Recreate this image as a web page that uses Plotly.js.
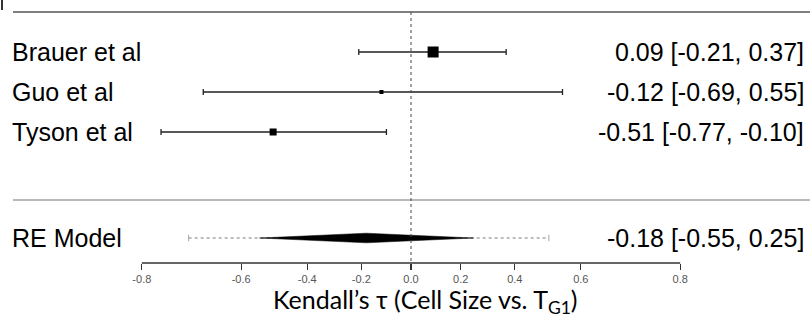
<!DOCTYPE html>
<html>
<head>
<meta charset="utf-8">
<script src="https://cdn.plot.ly/plotly-3.0.1.min.js"></script>
<style>html,body{margin:0;padding:0;background:#fff;}#chart{width:810px;height:321px;}</style>
</head>
<body>
<div id="chart"></div>
<script>
// ---- data (Kendall's tau, Fisher-z display scale) ----
const studies = ["Brauer et al", "Guo et al", "Tyson et al"];
const estimates = [0.09, -0.12, -0.51];
const ciLower = [-0.21, -0.69, -0.77];
const ciUpper = [0.37, 0.55, -0.10];
const weightsMarker = [11, 4, 7];           // marker size shown in picture
const reLabel = "RE Model";
const reEstimate = [-0.18];
const reCI = [-0.55, 0.25];
const rePI = [-0.72, 0.51];
const tickLabels = ["-0.8", "-0.6", "-0.4", "-0.2", "0.0", "0.2", "0.4", "0.6", "0.8"];
const tickValues = [-0.8, -0.6, -0.4, -0.2, 0.0, 0.2, 0.4, 0.6, 0.8];

const z = v => Math.atanh(v);
const fmt = v => v.toFixed(2);

const RE_ROW = 4.65;
const PLOT_H = 263;
const Y_BOTTOM = (PLOT_H - 52) / 40;
const traces = [];

// prediction interval (dotted)
traces.push({
  type: 'scatter', mode: 'lines',
  x: rePI.map(z), y: [RE_ROW, RE_ROW],
  line: {color: '#a8a8a8', width: 1.3, dash: 'dot'},
  hoverinfo: 'skip', showlegend: false
});
rePI.forEach(p => traces.push({
  type: 'scatter', mode: 'lines',
  x: [z(p), z(p)], y: [RE_ROW - 0.08, RE_ROW + 0.08],
  line: {color: '#a8a8a8', width: 1}, hoverinfo: 'skip', showlegend: false
}));

// diamond
const h = 0.12;
traces.push({
  type: 'scatter', mode: 'lines', fill: 'toself', fillcolor: '#000',
  x: [z(reCI[0]), z(reEstimate[0]), z(reCI[1]), z(reEstimate[0]), z(reCI[0])],
  y: [RE_ROW, RE_ROW - h, RE_ROW, RE_ROW + h, RE_ROW],
  line: {color: '#000', width: 0.5}, hoverinfo: 'skip', showlegend: false
});

// studies
studies.forEach((s, i) => {
  traces.push({
    type: 'scatter', mode: 'markers',
    x: [z(estimates[i])], y: [i],
    marker: {symbol: 'square', size: weightsMarker[i], color: '#000'},
    error_x: {
      type: 'data', symmetric: false,
      array: [z(ciUpper[i]) - z(estimates[i])],
      arrayminus: [z(estimates[i]) - z(ciLower[i])],
      color: '#222', thickness: 1.3, width: 3
    },
    hoverinfo: 'skip', showlegend: false
  });
});

const annotations = [];
const leftFont = {family: 'Liberation Sans, Arial, sans-serif', size: 25, color: '#000'};
studies.forEach((s, i) => {
  annotations.push({xref: 'paper', yref: 'y', x: 10 / 810, y: i, text: s, showarrow: false,
    xanchor: 'left', yanchor: 'middle', font: leftFont});
  annotations.push({xref: 'paper', yref: 'y', x: 806 / 810, y: i,
    text: `${fmt(estimates[i])} [${fmt(ciLower[i])}, ${fmt(ciUpper[i])}]`, showarrow: false,
    xanchor: 'right', yanchor: 'middle', font: leftFont});
});
annotations.push({xref: 'paper', yref: 'y', x: 10 / 810, y: RE_ROW, text: reLabel, showarrow: false,
  xanchor: 'left', yanchor: 'middle', font: leftFont});
annotations.push({xref: 'paper', yref: 'y', x: 806 / 810, y: RE_ROW,
  text: `${fmt(reEstimate[0])} [${fmt(reCI[0])}, ${fmt(reCI[1])}]`, showarrow: false,
  xanchor: 'right', yanchor: 'middle', font: leftFont});
// axis title
annotations.push({xref: 'paper', yref: 'paper', x: 425 / 810, y: -(320 - PLOT_H) / PLOT_H,
  text: 'Kendall’s τ (Cell Size vs. T<sub>G1</sub>)', showarrow: false,
  xanchor: 'center', yanchor: 'bottom',
  font: {family: 'Lato, Open Sans, sans-serif', size: 25, color: '#000'}});

const shapes = [
  // top rule
  {type: 'line', xref: 'paper', yref: 'y', x0: 13 / 810, x1: 1, y0: -1, y1: -1,
   line: {color: '#555', width: 1.5}},
  // separator
  {type: 'line', xref: 'paper', yref: 'y', x0: 13 / 810, x1: 1, y0: 3.7, y1: 3.7,
   line: {color: '#777', width: 1.2}},
  // zero line
  {type: 'line', xref: 'x', yref: 'y', x0: 0, x1: 0, y0: -1, y1: Y_BOTTOM,
   line: {color: '#444', width: 1, dash: 'dot'}},
  // axis line
  {type: 'line', xref: 'x', yref: 'paper', x0: z(tickValues[0]), x1: z(tickValues[tickValues.length - 1]),
   y0: 0, y1: 0, line: {color: '#333', width: 1.3}},
  // fragment at top-left
  {type: 'line', xref: 'paper', yref: 'y', x0: 2 / 810, x1: 2 / 810, y0: -1.3, y1: -1.05,
   line: {color: '#333', width: 2}}
];

const layout = {
  width: 810, height: 321,
  margin: {l: 0, r: 0, t: 0, b: 321 - PLOT_H, pad: 0},
  paper_bgcolor: '#fff', plot_bgcolor: '#fff',
  showlegend: false,
  xaxis: {
    range: [-411 / 245, 399 / 245], showgrid: false, zeroline: false, showline: false,
    tickmode: 'array', tickvals: tickValues.map(z), ticktext: tickLabels,
    ticks: 'outside', ticklen: 6, tickwidth: 1.2, tickcolor: '#333',
    tickfont: {family: 'Liberation Sans, Arial, sans-serif', size: 11, color: '#555'},
    fixedrange: true
  },
  yaxis: {
    range: [Y_BOTTOM, -1.3], showgrid: false, zeroline: false, showline: false,
    showticklabels: false, ticks: '', fixedrange: true
  },
  shapes: shapes,
  annotations: annotations
};

Plotly.newPlot('chart', traces, layout, {displayModeBar: false, staticPlot: true});
</script>
</body>
</html>
